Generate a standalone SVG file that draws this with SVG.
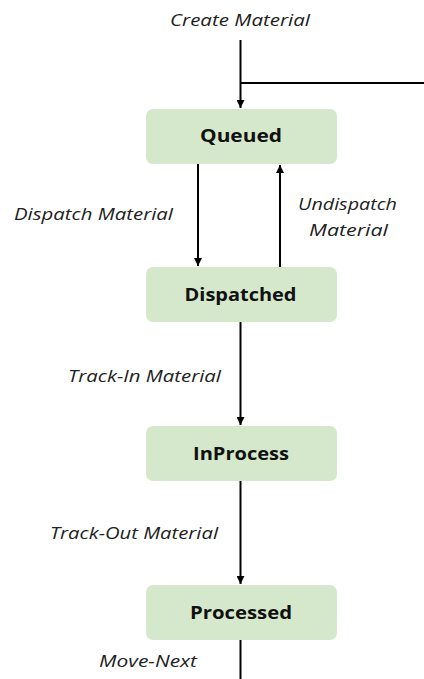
<svg xmlns="http://www.w3.org/2000/svg" width="424" height="679" viewBox="0 0 424 679">
  <style>
    .state rect { fill: #d5e8cc; }
    .state text { font-family: "Open Sans", "Liberation Sans", sans-serif; font-weight: bold; font-size: 18px; fill: #111; text-anchor: middle; }
    .lbl { font-family: "Open Sans", "Liberation Sans", sans-serif; font-style: italic; font-size: 16.5px; fill: #222; }
    .edge { stroke: #000; stroke-width: 2; fill: none; }
  </style>
  <defs>
    <marker id="arrow" viewBox="0 0 8 8" refX="8" refY="4" markerWidth="8" markerHeight="8" markerUnits="userSpaceOnUse" orient="auto">
      <path d="M0,0 L8,4 L0,8 Z" fill="#000"/>
    </marker>
  </defs>

  <rect width="424" height="679" fill="#fff"/>

  <g id="connectors">
    <line class="edge" x1="240.5" y1="40" x2="240.5" y2="108" marker-end="url(#arrow)"/>
    <line class="edge" x1="240.5" y1="83" x2="424" y2="83"/>
    <line class="edge" x1="198" y1="164" x2="198" y2="266" marker-end="url(#arrow)"/>
    <line class="edge" x1="280" y1="267" x2="280" y2="165" marker-end="url(#arrow)"/>
    <line class="edge" x1="240.5" y1="322" x2="240.5" y2="425" marker-end="url(#arrow)"/>
    <line class="edge" x1="240.5" y1="481" x2="240.5" y2="584" marker-end="url(#arrow)"/>
    <line class="edge" x1="240.5" y1="640" x2="240.5" y2="679"/>
  </g>

  <g id="edge-labels">
    <text class="lbl" x="170" y="26" textLength="140" lengthAdjust="spacingAndGlyphs">Create Material</text>
    <text class="lbl" x="14" y="220" textLength="159" lengthAdjust="spacingAndGlyphs">Dispatch Material</text>
    <text class="lbl" x="298" y="210" textLength="99" lengthAdjust="spacingAndGlyphs">Undispatch</text>
    <text class="lbl" x="309" y="236" textLength="79" lengthAdjust="spacingAndGlyphs">Material</text>
    <text class="lbl" x="68" y="382" textLength="153" lengthAdjust="spacingAndGlyphs">Track-In Material</text>
    <text class="lbl" x="50" y="539" textLength="168" lengthAdjust="spacingAndGlyphs">Track-Out Material</text>
    <text class="lbl" x="99" y="667" textLength="98" lengthAdjust="spacingAndGlyphs">Move-Next</text>
  </g>

  <g id="queued" class="state">
    <rect x="146" y="109" width="191" height="55" rx="7"/>
    <text x="241" y="142" textLength="82" lengthAdjust="spacingAndGlyphs">Queued</text>
  </g>
  <g id="dispatched" class="state">
    <rect x="146" y="267" width="191" height="55" rx="7"/>
    <text x="240.5" y="301" textLength="112" lengthAdjust="spacingAndGlyphs">Dispatched</text>
  </g>
  <g id="inprocess" class="state">
    <rect x="146" y="426" width="191" height="55" rx="7"/>
    <text x="241" y="460" textLength="96" lengthAdjust="spacingAndGlyphs">InProcess</text>
  </g>
  <g id="processed" class="state">
    <rect x="146" y="585" width="191" height="55" rx="7"/>
    <text x="241" y="619" textLength="102" lengthAdjust="spacingAndGlyphs">Processed</text>
  </g>
</svg>
